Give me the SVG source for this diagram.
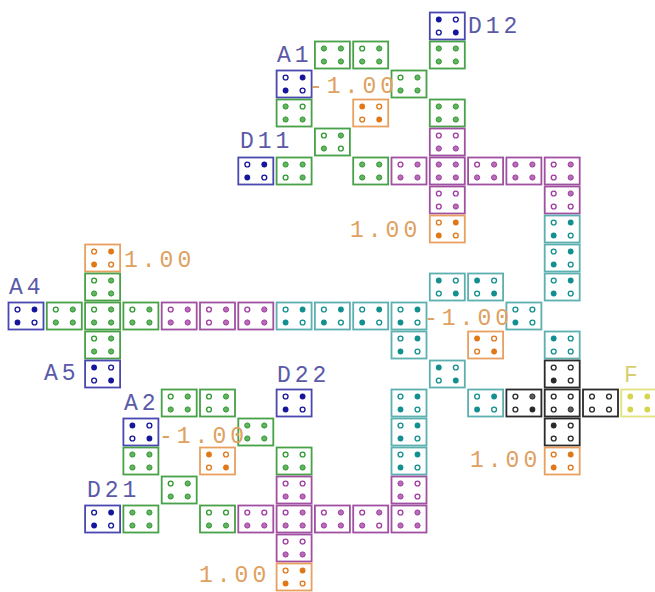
<svg xmlns="http://www.w3.org/2000/svg" xmlns:xlink="http://www.w3.org/1999/xlink" width="655" height="592" viewBox="0 0 655 592">
<style>
.t rect{fill:#fff;stroke-width:1.8}
.bl{color:#16169c}.bl rect{stroke:#4848b0}
.gr{color:#2f9a2f}.gr rect{stroke:#48a048}
.pu{color:#a03ca0}.pu rect{stroke:#a050a0}
.te{color:#138f8f}.te rect{stroke:#5cb0b0}
.or{color:#e07818}.or rect{stroke:#e8a060}
.bk{color:#2a2a2a}.bk rect{stroke:#2a2a2a}
.ye{color:#d6d64c}.ye rect{stroke:#e2e27a}
text{font-family:"Liberation Mono","DejaVu Sans Mono",monospace;font-size:23px;letter-spacing:4px}
.lb{fill:#5a5aa8}.lo{fill:#e0a060}.ly{fill:#d8d070}
</style>
<defs>
<circle id="f" r="2.9" fill="currentColor"/>
<circle id="h" r="2.4" fill="#fff" stroke="currentColor" stroke-width="1.4"/>
<circle id="m" r="2.6" fill="currentColor" fill-opacity="0.75" stroke="currentColor" stroke-width="1"/>
<g id="hffh"><use href="#h" x="9" y="7"/><use href="#f" x="26" y="7"/><use href="#f" x="9" y="20"/><use href="#h" x="26" y="20"/></g>
<g id="fhhf"><use href="#f" x="9" y="7"/><use href="#h" x="26" y="7"/><use href="#h" x="9" y="20"/><use href="#f" x="26" y="20"/></g>
<g id="mmmm"><use href="#m" x="9" y="7"/><use href="#m" x="26" y="7"/><use href="#m" x="9" y="20"/><use href="#m" x="26" y="20"/></g>
<g id="hmmm"><use href="#h" x="9" y="7"/><use href="#m" x="26" y="7"/><use href="#m" x="9" y="20"/><use href="#m" x="26" y="20"/></g>
<g id="mhmm"><use href="#m" x="9" y="7"/><use href="#h" x="26" y="7"/><use href="#m" x="9" y="20"/><use href="#m" x="26" y="20"/></g>
<g id="mmhm"><use href="#m" x="9" y="7"/><use href="#m" x="26" y="7"/><use href="#h" x="9" y="20"/><use href="#m" x="26" y="20"/></g>
<g id="hmmh"><use href="#h" x="9" y="7"/><use href="#m" x="26" y="7"/><use href="#m" x="9" y="20"/><use href="#h" x="26" y="20"/></g>
<g id="hmhm"><use href="#h" x="9" y="7"/><use href="#m" x="26" y="7"/><use href="#h" x="9" y="20"/><use href="#m" x="26" y="20"/></g>
<g id="hhmm"><use href="#h" x="9" y="7"/><use href="#h" x="26" y="7"/><use href="#m" x="9" y="20"/><use href="#m" x="26" y="20"/></g>
<g id="hhhm"><use href="#h" x="9" y="7"/><use href="#h" x="26" y="7"/><use href="#h" x="9" y="20"/><use href="#m" x="26" y="20"/></g>
<g id="hmhh"><use href="#h" x="9" y="7"/><use href="#m" x="26" y="7"/><use href="#h" x="9" y="20"/><use href="#h" x="26" y="20"/></g>
<g id="mhmh"><use href="#m" x="9" y="7"/><use href="#h" x="26" y="7"/><use href="#m" x="9" y="20"/><use href="#h" x="26" y="20"/></g>
<g id="hhfh"><use href="#h" x="9" y="7"/><use href="#h" x="26" y="7"/><use href="#f" x="9" y="20"/><use href="#h" x="26" y="20"/></g>
<g id="fhhh"><use href="#f" x="9" y="7"/><use href="#h" x="26" y="7"/><use href="#h" x="9" y="20"/><use href="#h" x="26" y="20"/></g>
<g id="hmhf"><use href="#h" x="9" y="7"/><use href="#m" x="26" y="7"/><use href="#h" x="9" y="20"/><use href="#f" x="26" y="20"/></g>
<g id="hhhh"><use href="#h" x="9" y="7"/><use href="#h" x="26" y="7"/><use href="#h" x="9" y="20"/><use href="#h" x="26" y="20"/></g>
<g id="ffff"><use href="#f" x="9" y="7"/><use href="#f" x="26" y="7"/><use href="#f" x="9" y="20"/><use href="#f" x="26" y="20"/></g>
</defs>
<rect width="655" height="592" fill="#fff"/>
<g id="tiles">
<g id="r0c11" class="t bl" transform="translate(429.8,12.5)"><rect width="35" height="27"/><use href="#fhhf"/></g>
<g id="r1c8" class="t gr" transform="translate(314.9,41.5)"><rect width="35" height="27"/><use href="#mmmm"/></g>
<g id="r1c9" class="t gr" transform="translate(353.2,41.5)"><rect width="35" height="27"/><use href="#hmmm"/></g>
<g id="r1c11" class="t gr" transform="translate(429.8,41.5)"><rect width="35" height="27"/><use href="#mmmm"/></g>
<g id="r2c7" class="t bl" transform="translate(276.6,70.5)"><rect width="35" height="27"/><use href="#hffh"/></g>
<g id="r2c10" class="t gr" transform="translate(391.5,70.5)"><rect width="35" height="27"/><use href="#hmmm"/></g>
<g id="r3c7" class="t gr" transform="translate(276.6,99.5)"><rect width="35" height="27"/><use href="#mhmm"/></g>
<g id="r3c9" class="t or" transform="translate(353.2,99.5)"><rect width="35" height="27"/><use href="#fhhf"/></g>
<g id="r3c11" class="t gr" transform="translate(429.8,99.5)"><rect width="35" height="27"/><use href="#mmmm"/></g>
<g id="r4c8" class="t gr" transform="translate(314.9,128.5)"><rect width="35" height="27"/><use href="#hmmh"/></g>
<g id="r4c11" class="t pu" transform="translate(429.8,128.5)"><rect width="35" height="27"/><use href="#hhmm"/></g>
<g id="r5c6" class="t bl" transform="translate(238.3,157.5)"><rect width="35" height="27"/><use href="#hffh"/></g>
<g id="r5c7" class="t gr" transform="translate(276.6,157.5)"><rect width="35" height="27"/><use href="#mmhm"/></g>
<g id="r5c9" class="t gr" transform="translate(353.2,157.5)"><rect width="35" height="27"/><use href="#mmmm"/></g>
<g id="r5c10" class="t pu" transform="translate(391.5,157.5)"><rect width="35" height="27"/><use href="#hmmm"/></g>
<g id="r5c11" class="t pu" transform="translate(429.8,157.5)"><rect width="35" height="27"/><use href="#mmmm"/></g>
<g id="r5c12" class="t pu" transform="translate(468.1,157.5)"><rect width="35" height="27"/><use href="#hmmm"/></g>
<g id="r5c13" class="t pu" transform="translate(506.4,157.5)"><rect width="35" height="27"/><use href="#mmmm"/></g>
<g id="r5c14" class="t pu" transform="translate(544.7,157.5)"><rect width="35" height="27"/><use href="#hmhm"/></g>
<g id="r6c11" class="t pu" transform="translate(429.8,186.5)"><rect width="35" height="27"/><use href="#hhhm"/></g>
<g id="r6c14" class="t pu" transform="translate(544.7,186.5)"><rect width="35" height="27"/><use href="#hmhh"/></g>
<g id="r7c11" class="t or" transform="translate(429.8,215.5)"><rect width="35" height="27"/><use href="#hffh"/></g>
<g id="r7c14" class="t te" transform="translate(544.7,215.5)"><rect width="35" height="27"/><use href="#hffh"/></g>
<g id="r8c2" class="t or" transform="translate(85.1,244.5)"><rect width="35" height="27"/><use href="#hffh"/></g>
<g id="r8c14" class="t te" transform="translate(544.7,244.5)"><rect width="35" height="27"/><use href="#hffh"/></g>
<g id="r9c2" class="t gr" transform="translate(85.1,273.5)"><rect width="35" height="27"/><use href="#hmmm"/></g>
<g id="r9c11" class="t te" transform="translate(429.8,273.5)"><rect width="35" height="27"/><use href="#fhhf"/></g>
<g id="r9c12" class="t te" transform="translate(468.1,273.5)"><rect width="35" height="27"/><use href="#fhhf"/></g>
<g id="r9c14" class="t te" transform="translate(544.7,273.5)"><rect width="35" height="27"/><use href="#hffh"/></g>
<g id="r10c0" class="t bl" transform="translate(8.5,302.5)"><rect width="35" height="27"/><use href="#hffh"/></g>
<g id="r10c1" class="t gr" transform="translate(46.8,302.5)"><rect width="35" height="27"/><use href="#hmmm"/></g>
<g id="r10c2" class="t gr" transform="translate(85.1,302.5)"><rect width="35" height="27"/><use href="#hmmm"/></g>
<g id="r10c3" class="t gr" transform="translate(123.4,302.5)"><rect width="35" height="27"/><use href="#hmmm"/></g>
<g id="r10c4" class="t pu" transform="translate(161.7,302.5)"><rect width="35" height="27"/><use href="#hmmm"/></g>
<g id="r10c5" class="t pu" transform="translate(200,302.5)"><rect width="35" height="27"/><use href="#hmhm"/></g>
<g id="r10c6" class="t pu" transform="translate(238.3,302.5)"><rect width="35" height="27"/><use href="#hmmm"/></g>
<g id="r10c7" class="t te" transform="translate(276.6,302.5)"><rect width="35" height="27"/><use href="#hffh"/></g>
<g id="r10c8" class="t te" transform="translate(314.9,302.5)"><rect width="35" height="27"/><use href="#hffh"/></g>
<g id="r10c9" class="t te" transform="translate(353.2,302.5)"><rect width="35" height="27"/><use href="#hffh"/></g>
<g id="r10c10" class="t te" transform="translate(391.5,302.5)"><rect width="35" height="27"/><use href="#hffh"/></g>
<g id="r10c13" class="t te" transform="translate(506.4,302.5)"><rect width="35" height="27"/><use href="#hhfh"/></g>
<g id="r11c2" class="t gr" transform="translate(85.1,331.5)"><rect width="35" height="27"/><use href="#hmmm"/></g>
<g id="r11c10" class="t te" transform="translate(391.5,331.5)"><rect width="35" height="27"/><use href="#hffh"/></g>
<g id="r11c12" class="t or" transform="translate(468.1,331.5)"><rect width="35" height="27"/><use href="#fhhf"/></g>
<g id="r11c14" class="t te" transform="translate(544.7,331.5)"><rect width="35" height="27"/><use href="#fhhh"/></g>
<g id="r12c2" class="t bl" transform="translate(85.1,360.5)"><rect width="35" height="27"/><use href="#fhhf"/></g>
<g id="r12c11" class="t te" transform="translate(429.8,360.5)"><rect width="35" height="27"/><use href="#fhhf"/></g>
<g id="r12c14" class="t bk" transform="translate(544.7,360.5)"><rect width="35" height="27"/><use href="#hhfh"/></g>
<g id="r13c4" class="t gr" transform="translate(161.7,389.5)"><rect width="35" height="27"/><use href="#hmmm"/></g>
<g id="r13c5" class="t gr" transform="translate(200,389.5)"><rect width="35" height="27"/><use href="#hmhm"/></g>
<g id="r13c7" class="t bl" transform="translate(276.6,389.5)"><rect width="35" height="27"/><use href="#hffh"/></g>
<g id="r13c10" class="t te" transform="translate(391.5,389.5)"><rect width="35" height="27"/><use href="#hffh"/></g>
<g id="r13c12" class="t te" transform="translate(468.1,389.5)"><rect width="35" height="27"/><use href="#hffh"/></g>
<g id="r13c13" class="t bk" transform="translate(506.4,389.5)"><rect width="35" height="27"/><use href="#hmhf"/></g>
<g id="r13c14" class="t bk" transform="translate(544.7,389.5)"><rect width="35" height="27"/><use href="#hhhm"/></g>
<g id="r13c15" class="t bk" transform="translate(583,389.5)"><rect width="35" height="27"/><use href="#hhhh"/></g>
<g id="r13c16" class="t ye" transform="translate(621.3,389.5)"><rect width="35" height="27"/><use href="#ffff"/></g>
<g id="r14c3" class="t bl" transform="translate(123.4,418.5)"><rect width="35" height="27"/><use href="#fhhf"/></g>
<g id="r14c6" class="t gr" transform="translate(238.3,418.5)"><rect width="35" height="27"/><use href="#mmmm"/></g>
<g id="r14c10" class="t te" transform="translate(391.5,418.5)"><rect width="35" height="27"/><use href="#hffh"/></g>
<g id="r14c14" class="t bk" transform="translate(544.7,418.5)"><rect width="35" height="27"/><use href="#fhhh"/></g>
<g id="r15c3" class="t gr" transform="translate(123.4,447.5)"><rect width="35" height="27"/><use href="#mmmm"/></g>
<g id="r15c5" class="t or" transform="translate(200,447.5)"><rect width="35" height="27"/><use href="#fhhf"/></g>
<g id="r15c7" class="t gr" transform="translate(276.6,447.5)"><rect width="35" height="27"/><use href="#hhmm"/></g>
<g id="r15c10" class="t te" transform="translate(391.5,447.5)"><rect width="35" height="27"/><use href="#hffh"/></g>
<g id="r15c14" class="t or" transform="translate(544.7,447.5)"><rect width="35" height="27"/><use href="#hffh"/></g>
<g id="r16c4" class="t gr" transform="translate(161.7,476.5)"><rect width="35" height="27"/><use href="#hmmm"/></g>
<g id="r16c7" class="t pu" transform="translate(276.6,476.5)"><rect width="35" height="27"/><use href="#hhmm"/></g>
<g id="r16c10" class="t pu" transform="translate(391.5,476.5)"><rect width="35" height="27"/><use href="#mhmh"/></g>
<g id="r17c2" class="t bl" transform="translate(85.1,505.5)"><rect width="35" height="27"/><use href="#hffh"/></g>
<g id="r17c3" class="t gr" transform="translate(123.4,505.5)"><rect width="35" height="27"/><use href="#mmmm"/></g>
<g id="r17c5" class="t gr" transform="translate(200,505.5)"><rect width="35" height="27"/><use href="#hhmm"/></g>
<g id="r17c6" class="t pu" transform="translate(238.3,505.5)"><rect width="35" height="27"/><use href="#hhmm"/></g>
<g id="r17c7" class="t pu" transform="translate(276.6,505.5)"><rect width="35" height="27"/><use href="#hmmm"/></g>
<g id="r17c8" class="t pu" transform="translate(314.9,505.5)"><rect width="35" height="27"/><use href="#hmmm"/></g>
<g id="r17c9" class="t pu" transform="translate(353.2,505.5)"><rect width="35" height="27"/><use href="#hmmh"/></g>
<g id="r17c10" class="t pu" transform="translate(391.5,505.5)"><rect width="35" height="27"/><use href="#hmmm"/></g>
<g id="r18c7" class="t pu" transform="translate(276.6,534.5)"><rect width="35" height="27"/><use href="#hhmm"/></g>
<g id="r19c7" class="t or" transform="translate(276.6,563.5)"><rect width="35" height="27"/><use href="#hffh"/></g>
</g>
<g id="labels">
<text class="lb" x="468" y="33">D12</text>
<text class="lb" x="277" y="62">A1</text>
<text class="lo" x="309" y="93">-1.00</text>
<text class="lb" x="240" y="148">D11</text>
<text class="lo" x="350" y="237">1.00</text>
<text class="lo" x="124" y="267">1.00</text>
<text class="lb" x="9" y="294">A4</text>
<text class="lb" x="44" y="380">A5</text>
<text class="lo" x="424" y="325">-1.00</text>
<text class="lb" x="277" y="382">D22</text>
<text class="ly" x="624" y="382">F</text>
<text class="lb" x="124" y="410">A2</text>
<text class="lo" x="159" y="443">-1.00</text>
<text class="lb" x="87" y="497">D21</text>
<text class="lo" x="470" y="467">1.00</text>
<text class="lo" x="199" y="582">1.00</text>
</g>
</svg>
